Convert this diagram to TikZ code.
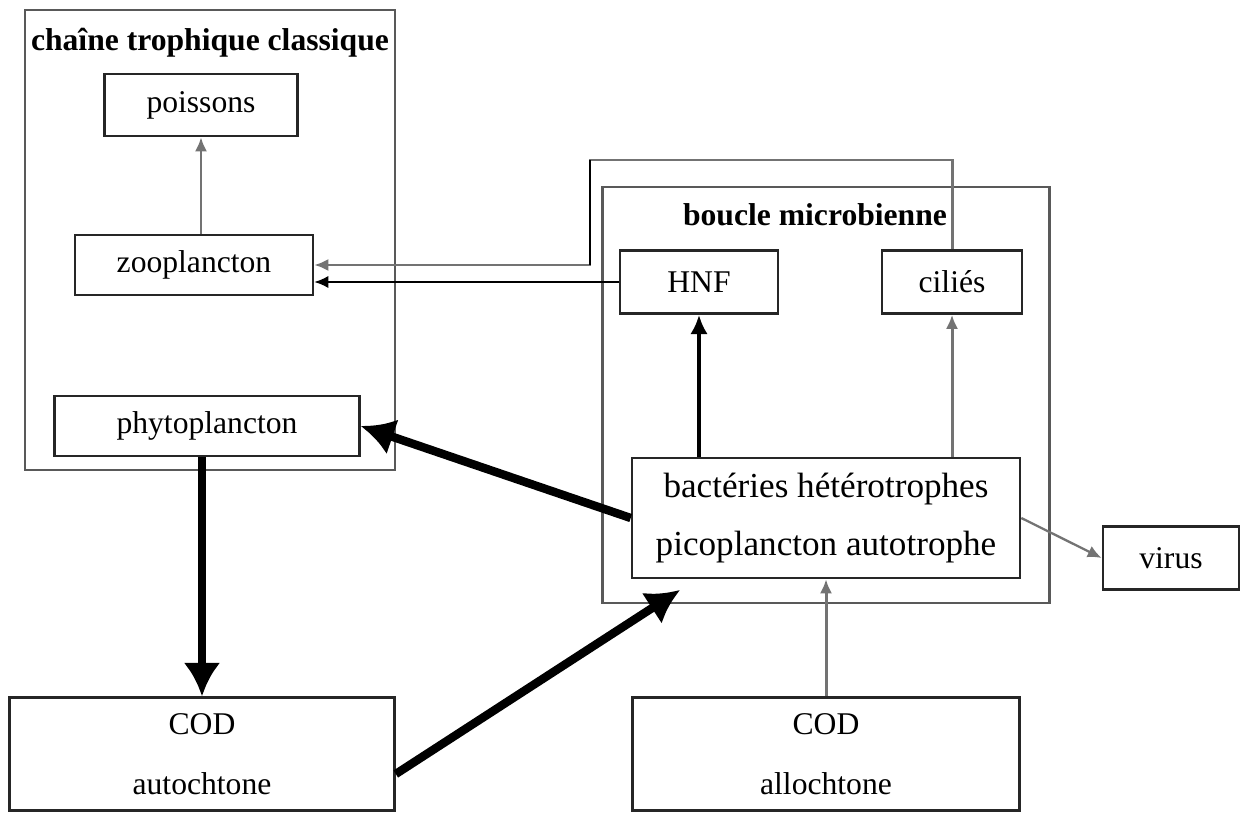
\documentclass[tikz,border=0pt]{standalone}
\usepackage{fontspec}
\setmainfont{Liberation Serif}
\usetikzlibrary{arrows.meta,calc,positioning}
\tikzset{
	-Latex,auto,semithick,x=0.02cm,y=-0.02cm,
	box/.style ={rectangle, draw=black!85, line width=1.5pt, align=center, font=\fontsize{18}{22}\selectfont},
	cadre/.style ={rectangle, draw=black!65, line width=1.6pt},
	titre/.style = {font=\bfseries\fontsize{18}{22}\selectfont},
	fin/.style = {draw=black!55, line width=1.7pt, -{Latex[length=8pt,width=7pt]}},
	noir/.style = {draw=black, line width=1.1pt, -{Latex[length=8pt,width=7pt]}},
	moyen/.style = {draw=black, line width=2.8pt, -{Latex[length=11pt,width=10pt]}},
	gros/.style = {draw=black, line width=4.8pt, -{Latex[length=19pt,width=21pt]}}
}

\begin{document}
\begin{tikzpicture}
    \useasboundingbox (0,0) rectangle (1241,814);
    % cadres
    \node[cadre, minimum width=7.4cm, minimum height=9.2cm] (chaine) at (210,240) {};
    \node[cadre, minimum width=8.94cm, minimum height=8.32cm] (boucle) at (826,395) {};
    \node[titre] (tchaine) at (210,43) {chaîne trophique classique};
    \node[titre] (tboucle) at (815,215) {boucle microbienne};

    \node[box, minimum width=3.86cm, minimum height=1.24cm] (poissons) at (201,105) {poissons};
    \node[box, minimum width=4.76cm, minimum height=1.2cm] (zoo) at (194,265) {zooplancton};
    \node[box, minimum width=6.1cm, minimum height=1.2cm] (phyto) at (207,426) {phytoplancton};
    \node[box, minimum width=3.16cm, minimum height=1.26cm] (hnf) at (699,282) {HNF};
    \node[box, minimum width=2.8cm, minimum height=1.26cm] (cilies) at (952,282) {ciliés};
    \node[box, minimum width=7.76cm, minimum height=2.4cm, font=\fontsize{20}{24}\selectfont] (bact) at (826,518) {bactéries hétérotrophes\\[9pt] picoplancton autotrophe};
    \node[box, minimum width=2.72cm, minimum height=1.26cm] (virus) at (1171,558) {virus};
    \node[box, minimum width=7.7cm, minimum height=2.26cm] (codauto) at (202,754) {COD\\[12pt] autochtone};
    \node[box, minimum width=7.74cm, minimum height=2.26cm] (codallo) at (826,754) {COD\\[12pt] allochtone};

    \coordinate (coude) at (590,160);
    \coordinate (pointe) at (680,590);

    \draw[fin] (poissons.south |- zoo.north) -- (poissons.south);
    \draw[fin] (cilies.north) |- (coude) |- (zoo.east);
    \draw[-, black, line width=1.7pt] (coude) -- (coude |- zoo.east);
    \draw[noir] (hnf.west) -- (hnf.west -| zoo.east);
    \draw[moyen] (bact.north -| hnf.south) -- (hnf.south);
    \draw[fin] (bact.north -| cilies.south) -- (cilies.south);
    \draw[fin, line width=1.3pt] (bact.east) -- (virus.west);
    \draw[fin] (codallo.north) -- (bact.south);
    \draw[gros] (bact.west) -- (phyto.east);
    \draw[gros] (phyto.south -| codauto.north) -- (codauto.north);
    \draw[gros] ($(codauto.east)+(0,20)$) -- (pointe);
\end{tikzpicture}
\end{document}
